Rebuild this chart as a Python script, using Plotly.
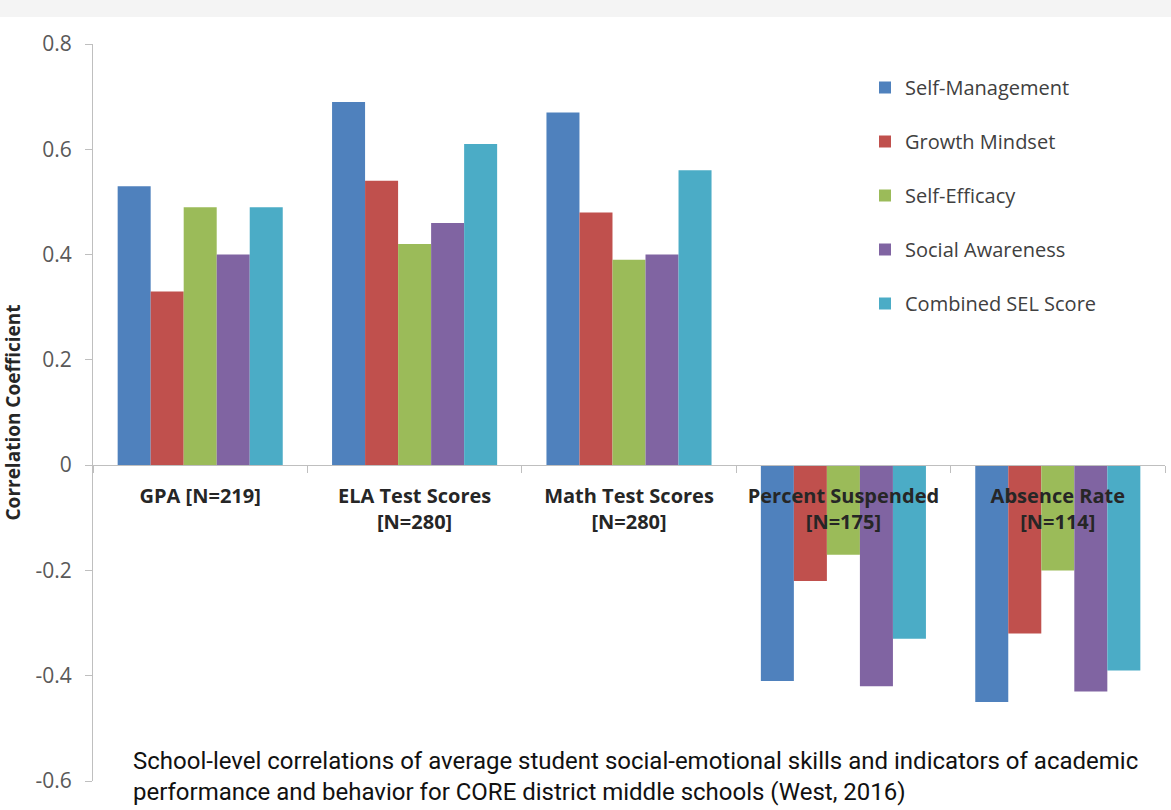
import plotly.graph_objects as go

categories = ["<b>GPA [N=219]</b>", "<b>ELA Test Scores<br>[N=280]</b>",
              "<b>Math Test Scores<br>[N=280]</b>", "<b>Percent Suspended<br>[N=175]</b>",
              "<b>Absence Rate<br>[N=114]</b>"]
series_names = ["Self-Management", "Growth Mindset", "Self-Efficacy",
                "Social Awareness", "Combined SEL Score"]
self_management = [0.53, 0.69, 0.67, -0.41, -0.45]
growth_mindset = [0.33, 0.54, 0.48, -0.22, -0.32]
self_efficacy = [0.49, 0.42, 0.39, -0.17, -0.20]
social_awareness = [0.40, 0.46, 0.40, -0.42, -0.43]
combined_sel = [0.49, 0.61, 0.56, -0.33, -0.39]
y_tick_vals = [0.8, 0.6, 0.4, 0.2, 0, -0.2, -0.4, -0.6]
y_tick_text = ["0.8", "0.6", "0.4", "0.2", "0", "-0.2", "-0.4", "-0.6"]
caption = ("School-level correlations of average student social-emotional skills and indicators of academic<br>"
           "performance and behavior for CORE district middle schools (West, 2016)")

colors = ["#4F81BD", "#C0504D", "#9BBB59", "#8064A2", "#4BACC6"]
values = [self_management, growth_mindset, self_efficacy, social_awareness, combined_sel]

W, H = 1171, 810
ml, mr, mt, mb = 93, 6, 44, 29
ph = H - mt - mb
pw = W - ml - mr
zero_paper = (H - mb - 465) / ph

fig = go.Figure()
for name, vals, c in zip(series_names, values, colors):
    fig.add_trace(go.Bar(x=categories, y=vals, name=name, marker_color=c,
                         marker_line_width=0, legendgroup=name))

fig.update_layout(
    width=W, height=H,
    margin=dict(l=ml, r=mr, t=mt, b=mb, autoexpand=False),
    paper_bgcolor="white", plot_bgcolor="white",
    barmode="group", bargap=0.23, bargroupgap=0,
    font=dict(family="Open Sans", color="#404040"),
    legend=dict(x=(865 - ml) / pw, y=(H - mb - 68) / ph, xanchor="left", yanchor="top",
                font=dict(size=20, color="#404040", family="Open Sans"),
                tracegroupgap=25, itemwidth=30, bgcolor="rgba(0,0,0,0)"),
    xaxis=dict(anchor="free", position=zero_paper, showline=True, linecolor="#bfbfbf",
               linewidth=1, ticks="outside", tickson="boundaries", ticklen=7,
               tickcolor="#bfbfbf", showgrid=False, automargin=False,
               ticklabelstandoff=13,
               tickfont=dict(size=20, color="#262626", family="Open Sans")),
    yaxis=dict(range=[-0.6, 0.8], tickvals=y_tick_vals, ticktext=y_tick_text,
               showline=True, linecolor="#bfbfbf", linewidth=1, ticks="outside",
               ticklen=7, tickcolor="#bfbfbf", showgrid=False, zeroline=False,
               automargin=False, ticklabelstandoff=9,
               tickfont=dict(size=21, color="#595959", family="Open Sans"),
               title=dict(text="<b>Correlation Coefficient</b>", standoff=12,
                          font=dict(size=19, color="#262626", family="Open Sans"))),
)

fig.add_shape(type="rect", xref="paper", yref="paper", x0=-0.2, x1=1.1,
              y0=(H - mb - 17) / ph, y1=(H - mb + 5) / ph,
              fillcolor="#f4f4f4", line_width=0, layer="below")

fig.add_annotation(text=caption, xref="paper", yref="paper",
                   x=(131 - ml) / pw, y=(H - mb - 745) / ph,
                   xanchor="left", yanchor="top", align="left", showarrow=False,
                   font=dict(size=24, color="#111111", family="Roboto"))

fig.write_html("out.html", config={"displayModeBar": False},
               post_script="document.body.style.margin='0';")
